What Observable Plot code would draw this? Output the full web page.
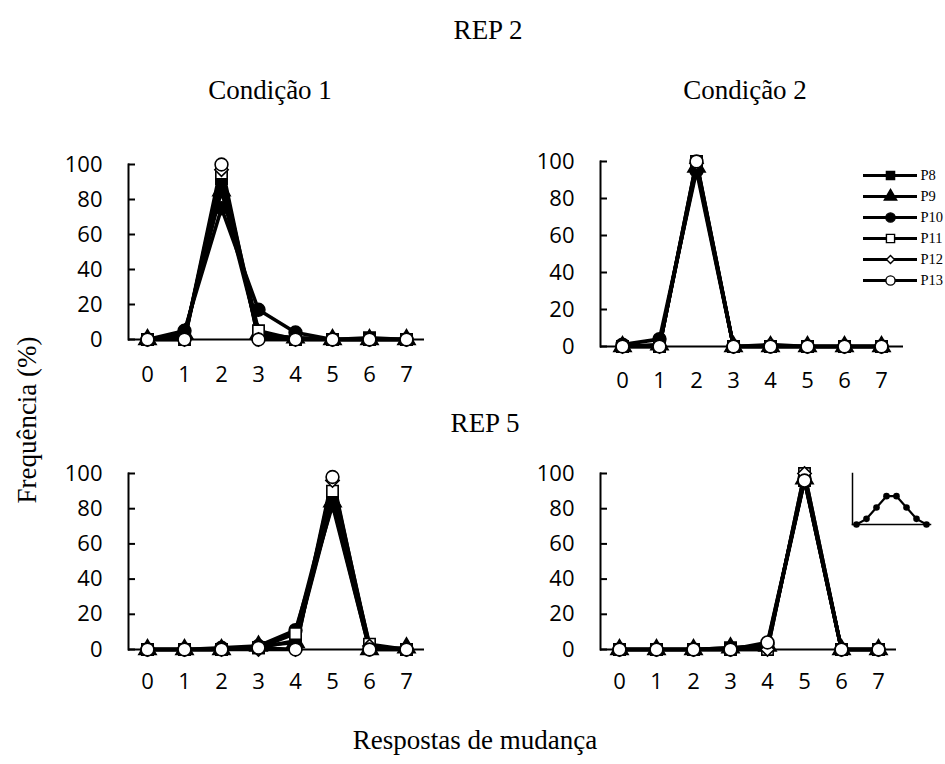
<!DOCTYPE html>
<html><head><meta charset="utf-8">
<script src="https://cdn.jsdelivr.net/npm/d3@7"></script>
<script src="https://cdn.jsdelivr.net/npm/@observablehq/plot@0.6"></script>
<style>
body{margin:0;background:#fff;}
#root{position:relative;width:945px;height:764px;overflow:hidden;background:#fff;font-family:"Liberation Serif","Times New Roman",serif;color:#000;}
.t{position:absolute;white-space:nowrap;transform:translate(-50%,-50%);line-height:1;}
.p{position:absolute;}
</style></head><body><div id="root"></div>
<script>
// ---- data ----
const xCats = [0, 1, 2, 3, 4, 5, 6, 7];
const yTicks = [0, 20, 40, 60, 80, 100];
const participants = ["P8", "P9", "P10", "P11", "P12", "P13"];
// rows: P8..P13, columns: responses 0..7 (% frequency)
const rep2Cond1 = [
  [0, 2, 92, 2, 1, 0, 1, 0],
  [0, 3, 85, 3, 1, 0, 0, 0],
  [0, 5, 75, 17, 4, 0, 0, 0],
  [0, 0, 95, 5, 0, 0, 0, 0],
  [0, 0, 97, 0, 0, 0, 0, 0],
  [0, 0, 100, 0, 0, 0, 0, 0]
];
const rep2Cond2 = [
  [0, 0, 98, 0, 0, 0, 0, 0],
  [0, 1, 97, 0, 0, 0, 0, 0],
  [1, 4, 95, 0, 0, 0, 0, 0],
  [0, 0, 100, 0, 0, 0, 0, 0],
  [0, 0, 99, 0, 1, 0, 0, 0],
  [0, 0, 100, 0, 0, 0, 0, 0]
];
const rep5Cond1 = [
  [0, 0, 0, 1, 5, 85, 1, 0],
  [0, 0, 0, 2, 4, 84, 0, 1],
  [0, 0, 1, 2, 11, 82, 0, 0],
  [0, 0, 0, 1, 9, 90, 3, 0],
  [0, 0, 0, 0, 0, 96, 2, 0],
  [0, 0, 0, 1, 0, 98, 0, 0]
];
const rep5Cond2 = [
  [0, 0, 0, 1, 2, 96, 0, 0],
  [0, 0, 0, 1, 2, 97, 0, 0],
  [0, 0, 0, 0, 3, 97, 0, 0],
  [0, 0, 0, 0, 0, 100, 0, 0],
  [0, 0, 0, 0, 0, 100, 0, 0],
  [0, 0, 0, 0, 4, 96, 0, 0]
];
// inset: schematic bell-shaped distribution
const insetValues = [0, 2, 6, 10, 10, 6, 2, 0];
const markerSymbols = ["square", "triangle", "circle", "square", "diamond2", "circle"];
const markerFills = ["black", "black", "black", "white", "white", "white"];

// ---- layout ----
const root = document.getElementById("root");
function addText(txt, x, y, size, rotate) {
  const d = document.createElement("div");
  d.className = "t";
  d.textContent = txt;
  d.style.left = x + "px";
  d.style.top = y + "px";
  d.style.fontSize = size + "px";
  if (rotate) d.style.transform = "translate(-50%,-50%) rotate(-90deg)";
  root.appendChild(d);
}
function place(svg, left, top) {
  svg.classList.add("p");
  svg.style.left = left + "px";
  svg.style.top = top + "px";
  root.appendChild(svg);
}

const panels = [
  {data: rep2Cond1, x0: 128, x1: 424, y100: 164, y0: 339, pad: 27},
  {data: rep2Cond2, x0: 600, x1: 903, y100: 161, y0: 346, pad: 26},
  {data: rep5Cond1, x0: 128, x1: 424, y100: 473, y0: 649, pad: 24},
  {data: rep5Cond2, x0: 600, x1: 896, y100: 473, y0: 649, pad: 24}
];

for (const pn of panels) {
  const rows = [];
  participants.forEach((p, i) => xCats.forEach((x, j) => rows.push({p, i, x, v: pn.data[i][j]})));
  const mL = 100, mT = 20, mR = 20, mB = 60;
  const width = mL + (pn.x1 - pn.x0) + mR;
  const height = mT + (pn.y0 - pn.y100) + mB;
  const marks = [
    Plot.ruleY([0], {stroke: "black", strokeWidth: 2}),
    Plot.frame({anchor: "left", stroke: "black", strokeWidth: 2}),
    Plot.axisY({ticks: yTicks, tickSize: 7, dx: 7, tickFormat: () => "", label: null, strokeWidth: 2}),
    Plot.axisY({ticks: yTicks, tickSize: 0, tickPadding: 26, label: null, fontSize: 22}),
    Plot.axisX({tickSize: 0, tickPadding: pn.pad, label: null, fontSize: 22}),
    Plot.line(rows, {x: "x", y: "v", z: "p", stroke: "black", strokeWidth: 3.6, curve: "linear"})
  ];
  participants.forEach((p, i) => {
    marks.push(Plot.dot(rows.filter(r => r.i === i), {
      x: "x", y: "v", symbol: () => markerSymbols[i], fill: markerFills[i],
      stroke: "black", strokeWidth: 1.6, r: i === 4 ? 6 : 6.4
    }));
  });
  const svg = Plot.plot({
    width, height, marginLeft: mL, marginTop: mT, marginRight: mR, marginBottom: mB,
    x: {type: "point", domain: xCats, padding: 0.5},
    y: {domain: [0, 100]},
    symbol: {type: "identity"},
    style: {fontFamily: "'Open Sans', sans-serif", fontSize: "22px", background: "transparent", overflow: "visible", color: "black"},
    marks
  });
  place(svg, pn.x0 - mL, pn.y100 - mT);
}

// legend
{
  const lgLeft = 855, lgTop = 150, lgW = 90, lgH = 150;
  const legendRows = participants.map((p, i) => ({p, i}));
  const marks = [
    Plot.ruleY(legendRows, {y: "p", stroke: "black", strokeWidth: 3})
  ];
  legendRows.forEach((d, i) => {
    marks.push(Plot.dot([d], {y: "p", frameAnchor: "middle", symbol: () => markerSymbols[i], fill: markerFills[i], stroke: "black", strokeWidth: 1.4, r: i === 4 ? 3.6 : 4.6}));
  });
  marks.push(Plot.text(legendRows, {y: "p", text: "p", frameAnchor: "right", textAnchor: "start", dx: 3, fontSize: 14.5, fontFamily: "'Liberation Serif', serif"}));
  const svg = Plot.plot({
    width: lgW, height: lgH, marginLeft: 8, marginRight: 28, marginTop: 14, marginBottom: 9,
    y: {type: "point", domain: participants, axis: null},
    symbol: {type: "identity"},
    style: {background: "transparent", overflow: "visible", color: "black"},
    marks
  });
  place(svg, lgLeft, lgTop);
}

// inset in bottom-right panel
{
  const rows = xCats.map((x, j) => ({x, v: insetValues[j]}));
  const svg = Plot.plot({
    width: 100, height: 70, marginLeft: 10, marginRight: 12, marginTop: 10, marginBottom: 9,
    x: {type: "point", domain: xCats, padding: 0.4, axis: null},
    y: {domain: [0, 18], axis: null},
    style: {background: "transparent", overflow: "visible"},
    marks: [
      Plot.frame({anchor: "left", stroke: "black", strokeWidth: 1.5}),
      Plot.frame({anchor: "bottom", stroke: "black", strokeWidth: 1.5}),
      Plot.line(rows, {x: "x", y: "v", stroke: "black", strokeWidth: 2.2}),
      Plot.dot(rows, {x: "x", y: "v", fill: "black", r: 3.3})
    ]
  });
  place(svg, 842, 463);
}

// titles
addText("REP 2", 488, 30, 27);
addText("Condição 1", 270, 90, 27);
addText("Condição 2", 745, 90, 27);
addText("REP 5", 485, 423, 27);
addText("Frequência (%)", 27, 420, 27, true);
addText("Respostas de mudança", 475, 740, 27);
</script>
</body></html>
